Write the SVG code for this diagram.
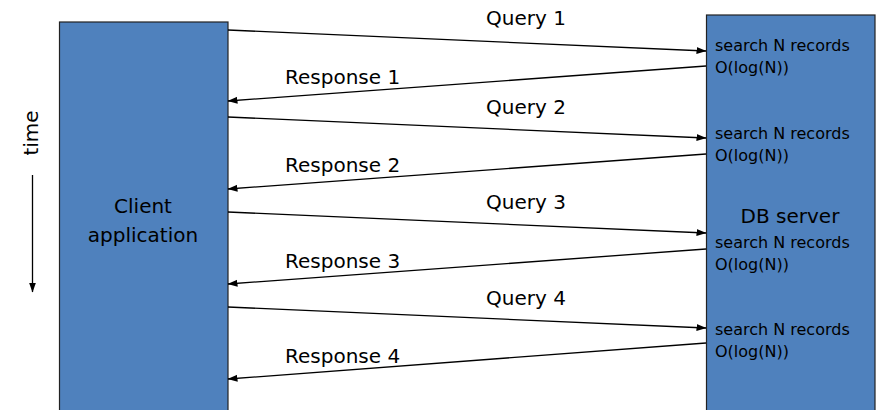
<svg xmlns="http://www.w3.org/2000/svg" width="878" height="410" viewBox="0 0 878 410">
<defs>
<marker id="ah" markerWidth="10" markerHeight="8" refX="9.5" refY="4" orient="auto" markerUnits="userSpaceOnUse">
<path d="M0,0.5 L10,4 L0,7.5 z" fill="#000"/>
</marker>
<style>
.box{fill:#4F81BD;stroke:#222;stroke-width:1.2}
.lbl{font-family:"DejaVu Sans",Verdana,sans-serif;font-size:20px;fill:#000}
.sm{font-family:"DejaVu Sans",Verdana,sans-serif;font-size:16px;fill:#000}
.c line{stroke:#000;stroke-width:1.3;marker-end:url(#ah)}
</style>
</defs>
<rect width="878" height="410" fill="#fff"/>
<g id="client">
<rect class="box" x="59.5" y="22" width="168.5" height="400"/>
<text class="lbl" x="143" y="213" text-anchor="middle" font-size="20.5">Client</text>
<text class="lbl" x="143" y="242" text-anchor="middle" font-size="20.5">application</text>
</g>
<g id="server">
<rect class="box" x="706.5" y="15" width="168.5" height="400"/>
<text class="lbl" x="790" y="223" text-anchor="middle">DB server</text>
<text class="sm" x="715" y="51">search N records</text>
<text class="sm" x="715" y="73">O(log(N))</text>
<text class="sm" x="715" y="139">search N records</text>
<text class="sm" x="715" y="161">O(log(N))</text>
<text class="sm" x="715" y="248">search N records</text>
<text class="sm" x="715" y="270">O(log(N))</text>
<text class="sm" x="715" y="335">search N records</text>
<text class="sm" x="715" y="357">O(log(N))</text>
</g>
<g id="time">
<text class="lbl" transform="translate(38,133) rotate(-90)" text-anchor="middle">time</text>
<line x1="32.5" y1="175" x2="32.5" y2="292" stroke="#000" stroke-width="1.3" marker-end="url(#ah)"/>
</g>
<g id="connectors" class="c">
<line x1="228" y1="30" x2="706" y2="51"/>
<line x1="706" y1="66" x2="228" y2="101"/>
<line x1="228" y1="117" x2="706" y2="138"/>
<line x1="706" y1="154" x2="228" y2="189"/>
<line x1="228" y1="212" x2="706" y2="233"/>
<line x1="706" y1="249" x2="228" y2="284"/>
<line x1="228" y1="307" x2="706" y2="328"/>
<line x1="706" y1="343" x2="228" y2="379"/>
</g>
<g id="labels">
<text class="lbl" x="486" y="25">Query 1</text>
<text class="lbl" x="285" y="84">Response 1</text>
<text class="lbl" x="486" y="114">Query 2</text>
<text class="lbl" x="285" y="172">Response 2</text>
<text class="lbl" x="486" y="209">Query 3</text>
<text class="lbl" x="285" y="268">Response 3</text>
<text class="lbl" x="486" y="305">Query 4</text>
<text class="lbl" x="285" y="363">Response 4</text>
</g>
</svg>
